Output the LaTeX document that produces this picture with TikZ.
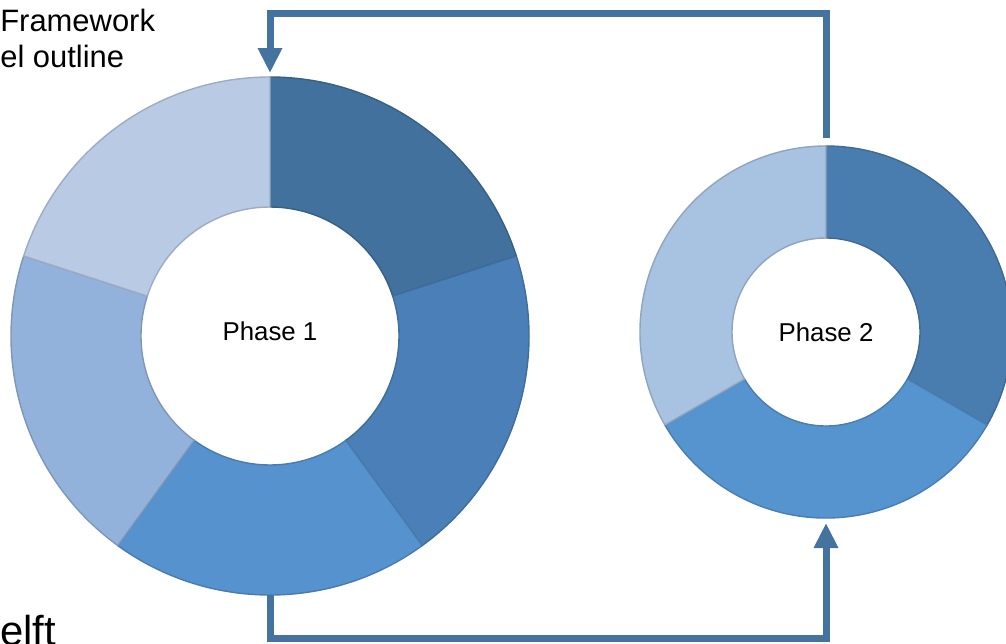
\documentclass[tikz,border=0pt]{standalone}
\usepackage{fontspec}
\setmainfont{Liberation Sans}
\usetikzlibrary{arrows.meta,calc}

\definecolor{linkblue}{HTML}{44739F}
\definecolor{bigA}{HTML}{41719C}
\definecolor{bigB}{HTML}{4A80B7}
\definecolor{bigC}{HTML}{5592CE}
\definecolor{bigD}{HTML}{93B2DB}
\definecolor{bigE}{HTML}{B9CAE5}
\definecolor{smallA}{HTML}{4A7DAF}
\definecolor{smallB}{HTML}{5694CF}
\definecolor{smallC}{HTML}{A8C2E1}

\tikzset{
  link/.style={draw=linkblue, line width=0.14cm, line join=miter,
    -{Triangle[width=0.46cm,length=0.5cm]}},
  seg/.style={fill=#1, draw=#1!85!black, line width=0.8pt},
  phase/.style={font=\fontsize{14.7}{17}\selectfont},
  slide/.style={anchor=base west, inner sep=0pt, font=\fontsize{17.6}{21}\selectfont},
}

% ring segment: centre, outer r, inner r, from angle, to angle, colour
\newcommand{\ringseg}[6]{%
  \filldraw[seg=#6] ($(#1)+(#4:#2)$) arc[start angle=#4, end angle=#5, radius=#2]
    -- ($(#1)+(#5:#3)$) arc[start angle=#5, end angle=#4, radius=#3] -- cycle;}

\begin{document}
\begin{tikzpicture}[x=0.02cm, y=0.02cm]
  \useasboundingbox (0,0) rectangle (1006,643);

  \coordinate (big) at (270,307);
  \coordinate (small) at (826,311);
  \path (big) ++(0,-259) coordinate (bigS) ++(0,518) coordinate (bigN);
  \path (small) ++(0,-186) coordinate (smallS) ++(0,372) coordinate (smallN);

  % phase 1 ring
  \foreach \a/\b/\c in {90/18/bigA, 18/-54/bigB, -54/-126/bigC, -126/-198/bigD, 162/90/bigE}
    \ringseg{big}{259}{129}{\a}{\b}{\c};

  % phase 2 ring
  \foreach \a/\b/\c in {90/-30/smallA, -30/-150/smallB, 210/90/smallC}
    \ringseg{small}{186}{94}{\a}{\b}{\c};

  \node[phase] (phaseone) at ($(big)+(0,5)$) {Phase 1};
  \node[phase] (phasetwo) at (small) {Phase 2};

  % loop between the phases
  \draw[link] (bigS) -- ++(0,-43.5) -| ($(smallS)+(0,-5)$);
  \draw[link] ($(smallN)+(0,8)$) -- ++(0,124) -| ($(bigN)+(0,4)$);

  \node[slide] (title) at (0,611) {Framework};
  \node[slide] (subtitle) at (0,575) {el outline};
  \node[slide, font=\fontsize{23.8}{28}\selectfont] (footer) at (0,-2) {elft};
\end{tikzpicture}
\end{document}
